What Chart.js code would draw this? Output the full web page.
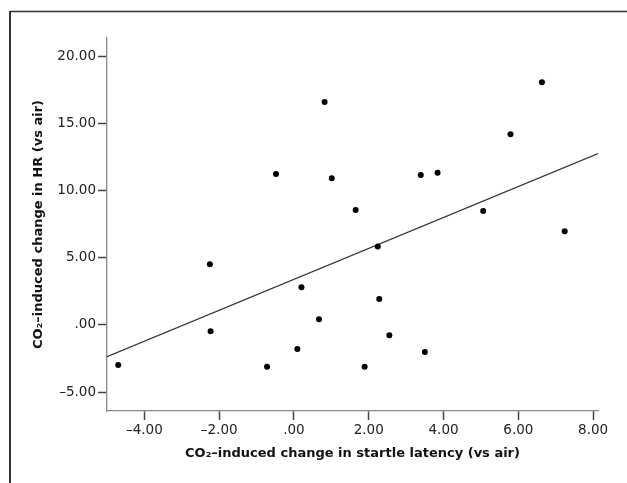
<!DOCTYPE html>
<html>
<head>
<meta charset="utf-8">
<script src="https://cdn.jsdelivr.net/npm/chart.js@4/dist/chart.umd.min.js"></script>
<style>
  html, body { margin: 0; padding: 0; background: #fff; }
  #wrap { position: absolute; left: 0; top: 0; width: 627px; height: 483px; }
</style>
</head>
<body>
<div id="wrap"><canvas id="scatter" width="627" height="483"></canvas></div>
<script>
// change in startle latency (x) vs change in HR (y), one point per subject
const latencyChange = [-4.70, -2.25, -2.23, -0.72, -0.48, 0.09, 0.20, 0.67, 0.82, 1.01, 1.65,
                       1.89, 2.24, 2.28, 2.55, 3.39, 3.50, 3.84, 5.06, 5.79, 6.63, 7.24];
const hrChange = [-2.98, 4.52, -0.47, -3.10, 11.24, -1.79, 2.81, 0.42, 16.59, 10.92, 8.56,
                  -3.10, 5.83, 1.93, -0.77, 11.16, -2.01, 11.33, 8.48, 14.19, 18.06, 6.97];

// regression line end points
const fitX = [-5, 8.13];
const fitY = [-2.36, 12.75];

const xTicks = [-4, -2, 0, 2, 4, 6, 8];
const yTicks = [-5, 0, 5, 10, 15, 20];

const xTitle = "CO\u2082\u2013induced change in startle latency (vs air)";
const yTitle = "CO\u2082\u2013induced change in HR (vs air)";

function fmt(v) {
    let s = Math.abs(v).toFixed(2);
    if (s.startsWith("0")) s = s.slice(1);
    return (v < 0 ? "\u2013" : "") + s;
}

/* outer frame, like the exported figure box */
const framePlugin = {
    id: "frame",
    beforeDraw(chart) {
        const ctx = chart.ctx;
        ctx.save();
        ctx.strokeStyle = "#333";
        ctx.lineWidth = 1.5;
        ctx.beginPath();
        ctx.moveTo(627, 11.5);
        ctx.lineTo(10, 11.5);
        ctx.stroke();
        ctx.lineWidth = 2;
        ctx.beginPath();
        ctx.moveTo(10, 11);
        ctx.lineTo(10, 483);
        ctx.stroke();
        ctx.restore();
    }
};

const tickFont = { family: "DejaVu Sans", size: 13.5 };
const titleFont = { family: "DejaVu Sans", size: 13, weight: "bold" };

new Chart(document.getElementById("scatter").getContext("2d"), {
    type: "scatter",
    data: {
        datasets: [{
            data: latencyChange.map((x, i) => ({ x: x, y: hrChange[i] })),
            backgroundColor: "#000",
            borderWidth: 0,
            pointRadius: 3
        }, {
            type: "line",
            data: fitX.map((x, i) => ({ x: x, y: fitY[i] })),
            borderColor: "#333",
            borderWidth: 1.2,
            pointRadius: 0,
            fill: false
        }]
    },
    options: {
        responsive: false,
        animation: false,
        devicePixelRatio: 1,
        layout: { padding: { left: 0, top: 38, right: 29, bottom: 0 } },
        plugins: {
            legend: { display: false },
            tooltip: { enabled: false }
        },
        scales: {
            x: {
                type: "linear",
                min: -5,
                max: 8.13,
                afterFit: s => { s.height = 72; },
                afterBuildTicks: s => { s.ticks = xTicks.map(v => ({ value: v })); },
                ticks: {
                    color: "#222",
                    font: tickFont,
                    padding: 2,
                    maxRotation: 0,
                    callback: v => fmt(v)
                },
                grid: {
                    drawOnChartArea: false,
                    tickLength: 9,
                    tickColor: "#444",
                    tickWidth: 1.5
                },
                border: { color: "#888", width: 1.3 },
                title: {
                    display: true,
                    text: xTitle,
                    color: "#111",
                    font: titleFont,
                    padding: { top: 0, bottom: 22 }
                }
            },
            y: {
                type: "linear",
                min: -6.4,
                max: 21.35,
                afterFit: s => { s.width = 107; },
                afterBuildTicks: s => { s.ticks = yTicks.map(v => ({ value: v })); },
                ticks: {
                    color: "#222",
                    font: tickFont,
                    padding: 2,
                    callback: v => fmt(v)
                },
                grid: {
                    drawOnChartArea: false,
                    tickLength: 9,
                    tickColor: "#444",
                    tickWidth: 1.5
                },
                border: { color: "#888", width: 1.3 },
                title: {
                    display: true,
                    text: yTitle,
                    color: "#111",
                    font: titleFont,
                    padding: { top: 31, bottom: 0 }
                }
            }
        }
    },
    plugins: [framePlugin]
});
</script>
</body>
</html>
